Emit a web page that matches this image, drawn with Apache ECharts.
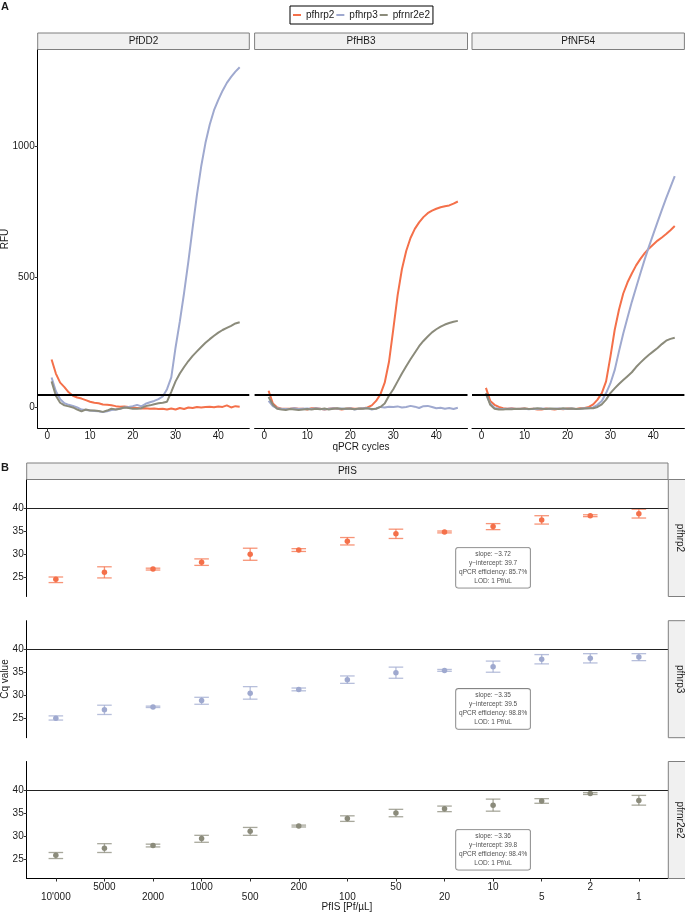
<!DOCTYPE html>
<html><head><meta charset="utf-8">
<script src="https://cdn.jsdelivr.net/npm/echarts@6/dist/echarts.min.js"></script>
<style>html,body{margin:0;padding:0;background:#fff}#c{width:685px;height:914px}</style>
</head><body><div id="c"></div>
<script>
// ---------- Panel A data (RFU per qPCR cycle) ----------
const cycles = [1,2,3,4,5,6,7,8,9,10,11,12,13,14,15,16,17,18,19,20,21,22,23,24,25,26,27,28,29,30,31,32,33,34,35,36,37,38,39,40,41,42,43,44,45];
const genes = ['pfhrp2','pfhrp3','pfrnr2e2'];
const strainsA = ['PfDD2','PfHB3','PfNF54'];
const dd2_pfhrp2 = [184,130,95,78,58,45,38,34,28,22,18,16,11,10,8,5,3,4,2,0,-2,-4,-3,-5,-4,-6,-5,-8,-4,-8,-2,-6,0,-2,2,0,2,3,1,4,2,8,0,5,3];
const dd2_pfhrp3 = [115,62,32,16,10,6,0,-8,-10,-12,-14,-15,-18,-15,-10,-8,-5,0,2,5,10,4,14,20,25,32,42,70,115,230,330,440,560,690,815,925,1015,1085,1140,1180,1215,1245,1268,1288,1305];
const dd2_pfrnr2e2 = [100,45,18,8,4,0,-8,-15,-8,-12,-12,-14,-17,-12,-5,-8,-5,0,-2,-5,-5,-3,5,8,12,16,18,22,60,100,130,155,178,198,215,232,248,262,275,287,297,305,313,322,327];
const hb3_pfhrp2 = [64,15,0,-5,-5,-5,-3,-5,-5,-8,-3,-3,-5,-8,-5,-3,-5,-8,-5,-3,-5,-5,-3,0,8,25,50,95,175,300,430,530,600,650,685,710,730,745,755,762,768,772,775,782,790];
const hb3_pfhrp3 = [25,5,-3,-5,-6,-5,-3,-6,-5,-4,-6,-3,-5,-8,-5,-3,-5,-4,-6,-3,-8,-5,-3,-2,-8,-4,2,0,3,2,4,0,2,6,3,-2,5,6,2,-3,-1,-5,-2,-6,-1];
const hb3_pfrnr2e2 = [40,10,-5,-8,-10,-6,-8,-10,-8,-6,-8,-5,-7,-4,-8,-5,-3,-6,-4,-5,-7,-4,-5,-3,-6,-5,2,15,45,70,100,130,158,185,210,235,255,272,288,300,310,318,324,329,332];
const nf54_pfhrp2 = [75,25,10,2,-3,-5,-3,-6,-5,-4,-6,-5,-8,-8,-4,-6,-8,-5,-7,-4,-5,-6,-3,-2,2,12,30,55,100,194,297,375,437,480,514,545,570,592,610,625,640,652,665,680,696];
const nf54_pfhrp3 = [50,15,-2,-5,-6,-5,-4,-6,-5,-5,-7,-5,-6,-4,-5,-6,-5,-4,-6,-5,-4,-6,-5,-3,-3,0,10,25,55,92,143,215,284,345,405,460,515,568,618,665,712,758,803,845,887];
const nf54_pfrnr2e2 = [55,10,-5,-8,-8,-6,-7,-5,-6,-4,-6,-5,-3,-5,-6,-4,-5,-6,-3,-5,-4,-6,-5,-4,-3,-3,2,12,30,55,73,90,105,120,135,155,172,188,202,215,228,243,256,263,267];
const cycleTicks = [0,10,20,30,40];
const rfuTicks = [0,500,1000];
const RFU_THRESHOLD = 50;

// ---------- Panel B data (Cq per dilution) ----------
const doseLabels = ["10'000","5000","2000","1000","500","200","100","50","20","10","5","2","1"];
const hrp2Mean = [24.6,26.1,26.8,28.3,30.0,30.9,32.8,34.4,34.8,36.0,37.4,38.3,38.7];
const hrp2Low  = [23.9,24.9,26.6,27.6,28.7,30.6,32.0,33.4,34.6,35.3,36.5,38.1,37.8];
const hrp2High = [25.1,27.3,27.0,29.0,31.3,31.2,33.6,35.4,35.0,36.6,38.3,38.5,39.7];
const hrp3Mean = [25.1,26.9,27.5,28.9,30.5,31.3,33.4,34.9,35.4,36.2,37.8,38.0,38.3];
const hrp3Low  = [24.7,25.9,27.4,28.1,29.2,31.0,32.6,33.7,35.2,35.0,36.8,37.0,37.5];
const hrp3High = [25.6,27.9,27.7,29.6,31.9,31.6,34.2,36.1,35.6,37.4,38.8,39.0,39.0];
const rnrMean  = [25.9,27.4,28.0,29.5,31.1,32.2,33.8,35.0,35.9,36.7,37.6,39.2,37.7];
const rnrLow   = [25.2,26.5,27.7,28.7,30.2,32.0,33.2,34.2,35.3,35.4,37.1,39.0,36.7];
const rnrHigh  = [26.5,28.4,28.3,30.2,31.9,32.4,34.4,35.8,36.5,38.0,38.1,39.4,38.8];
const cqTicks = [25,30,35,40];
const CQ_CUTOFF = 40;
const statSlope = ['−3.72','−3.35','−3.36'];
const statIntercept = ['39.7','39.5','39.8'];
const statEff = ['85.7%','98.8%','98.4%'];
const statLod = ['1 Pf/uL','1 Pf/uL','1 Pf/uL'];
const annotAt = [9, 27.1];

// ---------- styling / layout ----------
const FF = '"Liberation Sans", Arial, Helvetica, sans-serif';
const COL = {pfhrp2:'#F4704A', pfhrp3:'#9FA9CF', pfrnr2e2:'#8B8B7B'};
const TXT = '#1a1a1a';
const STRIP_FILL = '#F0F0F0', STRIP_STROKE = '#7f7f7f';

const grids = [], xAxes = [], yAxes = [], series = [], graphics = [];

function strip(x, y, w, h, label, vertical) {
  graphics.push({type:'rect', shape:{x:x, y:y, width:w, height:h}, style:{fill:STRIP_FILL, stroke:STRIP_STROKE, lineWidth:1}, silent:true, z:10});
  graphics.push({type:'text', x:x + w/2, y:y + h/2, rotation: vertical ? -Math.PI/2 : 0,
    style:{text:label, fontSize:10, fontFamily:FF, fill:TXT, align:'center', verticalAlign:'middle'}, silent:true, z:11});
}
function label(x, y, text, opts) {
  graphics.push(Object.assign({type:'text', x:x, y:y, silent:true, z:11,
    style:Object.assign({text:text, fontSize:10, fontFamily:FF, fill:TXT, align:'center', verticalAlign:'middle'}, (opts && opts.style) || {})},
    opts && opts.rotation !== undefined ? {rotation:opts.rotation} : {}));
}
const plain = (v) => String(v);

// Panel A
const A_TOP = 49.5, A_H = 378.8;
const panelsA = [
  {left:37.7, width:211.6, data:[dd2_pfhrp2, dd2_pfhrp3, dd2_pfrnr2e2]},
  {left:254.6, width:212.9, data:[hb3_pfhrp2, hb3_pfhrp3, hb3_pfrnr2e2]},
  {left:472.0, width:212.4, data:[nf54_pfhrp2, nf54_pfhrp3, nf54_pfrnr2e2]}
];
panelsA.forEach((p, k) => {
  grids.push({left:p.left, top:A_TOP, width:p.width, height:A_H, containLabel:false, outerBoundsMode:'none'});
  xAxes.push({gridIndex:k, type:'value', min:-2.25, max:47.25, position:'bottom',
    axisLine:{show:true, onZero:false, lineStyle:{color:'#000', width:1}},
    axisTick:{show:true, customValues:cycleTicks, length:3, lineStyle:{color:'#333'}},
    axisLabel:{customValues:cycleTicks, fontSize:10, fontFamily:FF, color:TXT, margin:3, formatter:plain},
    splitLine:{show:false}});
  yAxes.push({gridIndex:k, type:'value', min:-80, max:1373, position:'left',
    axisLine:{show:k===0, onZero:false, lineStyle:{color:'#000', width:1}},
    axisTick:{show:k===0, customValues:rfuTicks, length:3, lineStyle:{color:'#333'}},
    axisLabel:{show:k===0, customValues:rfuTicks, fontSize:10, fontFamily:FF, color:TXT, margin:3, formatter:plain},
    splitLine:{show:false}});
  p.data.forEach((arr, g) => {
    const s = {type:'line', name:genes[g], xAxisIndex:k, yAxisIndex:k,
      data:cycles.map((c, i) => [c, arr[i]]), showSymbol:false, symbol:'none',
      lineStyle:{color:COL[genes[g]], width:2}, itemStyle:{color:COL[genes[g]]},
      silent:true, animation:false, z:2+g};
    if (g === 2) s.markLine = {silent:true, symbol:['none','none'], label:{show:false}, animation:false,
      lineStyle:{color:'#000', width:1.8, type:'solid'}, data:[{yAxis:RFU_THRESHOLD}]};
    series.push(s);
  });
  strip(p.left, 33, p.width, 16.5, strainsA[k], false);
});

// Panel B
const B_LEFT = 26.7, B_W = 641.3, B_H = 117;
const rowTops = [479.5, 620.7, 761.5];
const rowsB = [
  {gene:'pfhrp2', mean:hrp2Mean, low:hrp2Low, high:hrp2High},
  {gene:'pfhrp3', mean:hrp3Mean, low:hrp3Low, high:hrp3High},
  {gene:'pfrnr2e2', mean:rnrMean, low:rnrLow, high:rnrHigh}
];
rowsB.forEach((r, j) => {
  const k = 3 + j;
  const last = j === 2;
  grids.push({left:B_LEFT, top:rowTops[j], width:B_W, height:B_H, containLabel:false, outerBoundsMode:'none'});
  xAxes.push({gridIndex:k, type:'value', min:-0.6, max:12.6, show:last, position:'bottom',
    axisLine:{show:last, onZero:false, lineStyle:{color:'#000', width:1}},
    axisTick:{show:last, customValues:doseLabels.map((d, i) => i), length:3, lineStyle:{color:'#333'}},
    axisLabel:{show:last, customValues:doseLabels.map((d, i) => i), fontSize:10, fontFamily:FF, color:TXT, margin:3, lineHeight:10.5,
      formatter:(v) => { const i = Math.round(v); return i % 2 === 0 ? '\n' + doseLabels[i] : doseLabels[i]; }},
    splitLine:{show:false}});
  yAxes.push({gridIndex:k, type:'value', min:20.9, max:46.1, position:'left',
    axisLine:{show:true, onZero:false, lineStyle:{color:'#000', width:1}},
    axisTick:{show:true, customValues:cqTicks, length:3, lineStyle:{color:'#333'}},
    axisLabel:{customValues:cqTicks, fontSize:10, fontFamily:FF, color:TXT, margin:3, formatter:plain},
    splitLine:{show:false}});
  const color = COL[r.gene];
  series.push({type:'custom', xAxisIndex:k, yAxisIndex:k, silent:true, animation:false, z:3,
    data:r.mean.map((m, i) => [i, r.low[i], r.high[i]]),
    encode:{x:0, y:[1,2]},
    renderItem:(params, api) => {
      const x = api.value(0);
      const lo = api.coord([x, api.value(1)]);
      const hi = api.coord([x, api.value(2)]);
      const hw = api.size([0.3, 0])[0] / 2;
      const st = {stroke:color, lineWidth:1.3, opacity:0.75};
      return {type:'group', children:[
        {type:'line', shape:{x1:lo[0], y1:lo[1], x2:hi[0], y2:hi[1]}, style:st},
        {type:'line', shape:{x1:lo[0]-hw, y1:lo[1], x2:lo[0]+hw, y2:lo[1]}, style:st},
        {type:'line', shape:{x1:hi[0]-hw, y1:hi[1], x2:hi[0]+hw, y2:hi[1]}, style:st}
      ]};
    }});
  series.push({type:'scatter', name:r.gene, xAxisIndex:k, yAxisIndex:k, silent:true, animation:false, z:4,
    data:r.mean.map((m, i) => [i, m]), symbol:'circle', symbolSize:5.5, itemStyle:{color:color, opacity:1},
    markLine:{silent:true, symbol:['none','none'], label:{show:false}, animation:false,
      lineStyle:{color:'#222', width:1.2, type:'solid'}, data:[{yAxis:CQ_CUTOFF}]}});
  series.push({type:'scatter', xAxisIndex:k, yAxisIndex:k, silent:true, animation:false, z:6,
    data:[annotAt], symbolSize:0,
    label:{show:true, position:'inside', align:'center', verticalAlign:'middle',
      formatter:['slope: ' + statSlope[j], 'y−intercept: ' + statIntercept[j], 'qPCR efficiency: ' + statEff[j], 'LOD: ' + statLod[j]].join('\n'),
      fontSize:6.5, lineHeight:9, fontFamily:FF, color:TXT, backgroundColor:'#fff',
      borderColor:'#666', borderWidth:0.8, borderRadius:2.5, padding:[2,3,2,3]}});
  strip(668.3, rowTops[j], 22, B_H, r.gene, true);
});
strip(B_LEFT, 463, B_W, 16.5, 'PfIS', false);

// Titles and panel tags
label(5, 7, 'A', {style:{fontWeight:'bold', fontSize:11}});
label(5, 468, 'B', {style:{fontWeight:'bold', fontSize:11}});
label(5, 239, 'RFU', {rotation:Math.PI/2});
label(361, 447, 'qPCR cycles');
label(5, 679, 'Cq value', {rotation:Math.PI/2});
label(347, 907, 'PfIS [Pf/µL]');

const chart = echarts.init(document.getElementById('c'), null, {renderer:'canvas'});
chart.setOption({
  animation:false,
  backgroundColor:'#fff',
  textStyle:{fontFamily:FF},
  legend:{data:genes, left:290, top:6, orient:'horizontal', icon:'rect', itemWidth:8, itemHeight:2, itemGap:2,
    padding:[4,3], borderColor:'#000', borderWidth:1, selectedMode:false,
    textStyle:{fontSize:10, fontFamily:FF, color:TXT}},
  grid:grids, xAxis:xAxes, yAxis:yAxes, series:series, graphic:graphics
});
</script>
</body></html>
